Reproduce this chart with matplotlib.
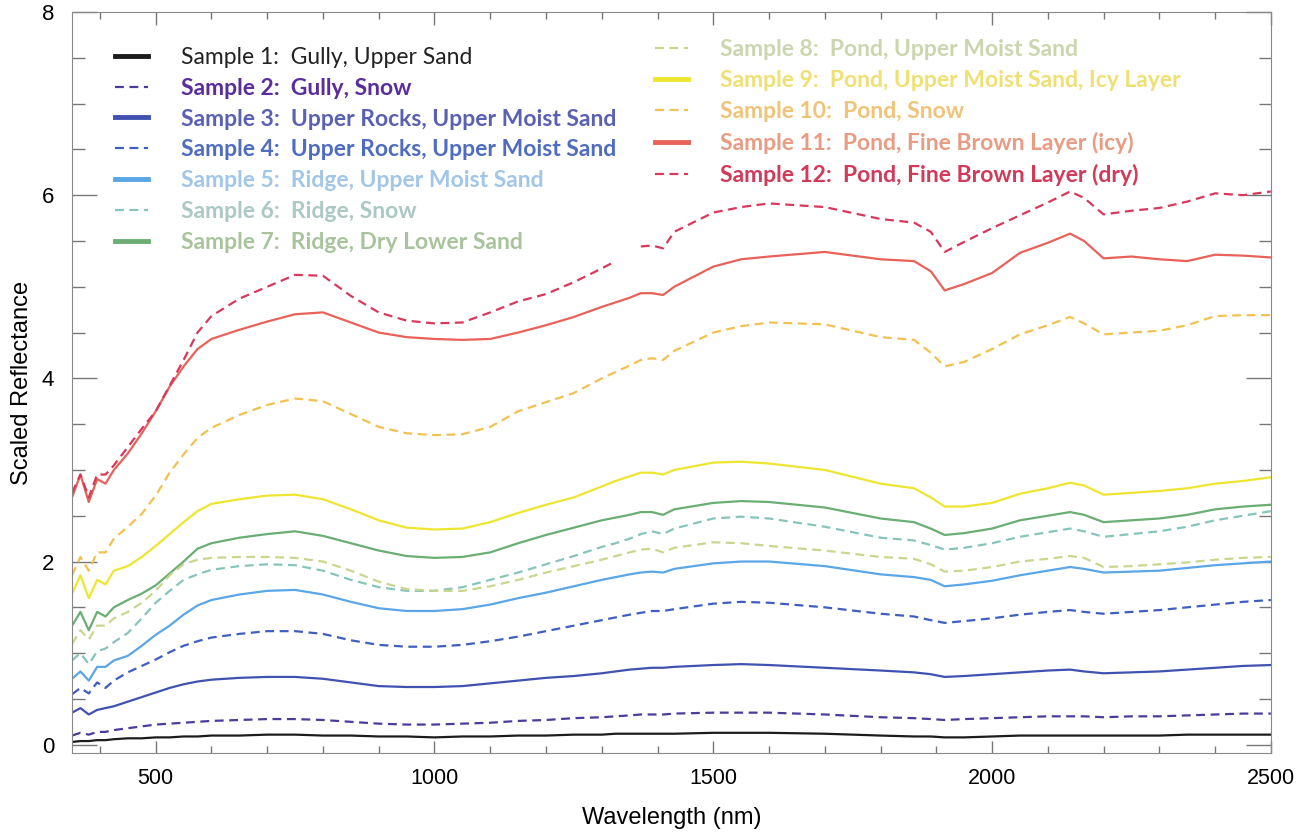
import numpy as np
import matplotlib.pyplot as plt
from matplotlib.ticker import MultipleLocator

nan = np.nan

wavelength = [350, 365, 380, 395, 410, 425,
              450, 475, 500, 525, 550, 575, 600,
              650, 700, 750, 800, 850, 900, 950, 1000,
              1050, 1100, 1150, 1200, 1250, 1300, 1325,
              1350, 1370, 1390, 1410, 1430,
              1500, 1550, 1600, 1700, 1800,
              1860, 1890, 1915, 1950, 2000,
              2050, 2100, 2140, 2165, 2200,
              2250, 2300, 2350, 2400, 2450, 2500]

sample1 = [0.03, 0.04, 0.04, 0.05, 0.05, 0.06,
           0.07, 0.07, 0.08, 0.08, 0.09, 0.09, 0.10,
           0.10, 0.11, 0.11, 0.10, 0.10, 0.09, 0.09, 0.08,
           0.09, 0.09, 0.10, 0.10, 0.11, 0.11, 0.12,
           0.12, 0.12, 0.12, 0.12, 0.12,
           0.13, 0.13, 0.13, 0.12, 0.10,
           0.09, 0.09, 0.08, 0.08, 0.09,
           0.10, 0.10, 0.10, 0.10, 0.10,
           0.10, 0.10, 0.11, 0.11, 0.11, 0.11]
sample2 = [0.10, 0.13, 0.11, 0.14, 0.14, 0.16,
           0.18, 0.20, 0.22, 0.23, 0.24, 0.25, 0.26,
           0.27, 0.28, 0.28, 0.27, 0.25, 0.23, 0.22, 0.22,
           0.23, 0.24, 0.26, 0.27, 0.29, 0.30, 0.31,
           0.32, 0.33, 0.33, 0.33, 0.34,
           0.35, 0.35, 0.35, 0.33, 0.30,
           0.29, 0.28, 0.27, 0.28, 0.29,
           0.30, 0.31, 0.31, 0.31, 0.30,
           0.31, 0.31, 0.32, 0.33, 0.34, 0.34]
sample3 = [0.35, 0.40, 0.33, 0.38, 0.40, 0.42,
           0.47, 0.52, 0.57, 0.62, 0.66, 0.69, 0.71,
           0.73, 0.74, 0.74, 0.72, 0.68, 0.64, 0.63, 0.63,
           0.64, 0.67, 0.70, 0.73, 0.75, 0.78, 0.80,
           0.82, 0.83, 0.84, 0.84, 0.85,
           0.87, 0.88, 0.87, 0.84, 0.81,
           0.79, 0.77, 0.74, 0.75, 0.77,
           0.79, 0.81, 0.82, 0.80, 0.78,
           0.79, 0.80, 0.82, 0.84, 0.86, 0.87]
sample4 = [0.55, 0.62, 0.56, 0.68, 0.62, 0.70,
           0.79, 0.86, 0.93, 1.01, 1.08, 1.13, 1.17,
           1.21, 1.24, 1.24, 1.21, 1.14, 1.09, 1.07, 1.07,
           1.09, 1.13, 1.18, 1.24, 1.30, 1.36, 1.39,
           1.42, 1.44, 1.46, 1.46, 1.48,
           1.54, 1.56, 1.55, 1.50, 1.43,
           1.40, 1.36, 1.33, 1.35, 1.38,
           1.42, 1.45, 1.47, 1.45, 1.43,
           1.45, 1.47, 1.50, 1.53, 1.56, 1.58]
sample5 = [0.72, 0.80, 0.70, 0.85, 0.85, 0.92,
           0.97, 1.08, 1.20, 1.30, 1.42, 1.52, 1.58,
           1.64, 1.68, 1.69, 1.64, 1.56, 1.49, 1.46, 1.46,
           1.48, 1.53, 1.60, 1.66, 1.73, 1.80, 1.83,
           1.86, 1.88, 1.89, 1.88, 1.92,
           1.98, 2.00, 2.00, 1.95, 1.86,
           1.83, 1.80, 1.73, 1.75, 1.79,
           1.85, 1.90, 1.94, 1.92, 1.88,
           1.89, 1.90, 1.93, 1.96, 1.98, 2.00]
sample6 = [0.92, 1.00, 0.88, 1.02, 1.05, 1.12,
           1.22, 1.38, 1.55, 1.68, 1.80, 1.86, 1.91,
           1.95, 1.97, 1.96, 1.90, 1.80, 1.72, 1.68, 1.68,
           1.72, 1.80, 1.88, 1.97, 2.06, 2.16, 2.20,
           2.25, 2.30, 2.33, 2.30, 2.36,
           2.47, 2.49, 2.47, 2.38, 2.26,
           2.23, 2.18, 2.13, 2.15, 2.20,
           2.27, 2.32, 2.36, 2.33, 2.27,
           2.30, 2.33, 2.38, 2.45, 2.50, 2.55]
sample7 = [1.30, 1.45, 1.25, 1.45, 1.40, 1.50,
           1.58, 1.65, 1.74, 1.87, 2.00, 2.14, 2.20,
           2.26, 2.30, 2.33, 2.28, 2.20, 2.12, 2.06, 2.04,
           2.05, 2.10, 2.20, 2.29, 2.37, 2.45, 2.48,
           2.51, 2.54, 2.54, 2.51, 2.57,
           2.64, 2.66, 2.65, 2.59, 2.47,
           2.43, 2.36, 2.29, 2.31, 2.36,
           2.45, 2.50, 2.54, 2.51, 2.43,
           2.45, 2.47, 2.51, 2.57, 2.60, 2.62]
sample8 = [1.10, 1.25, 1.15, 1.30, 1.30, 1.38,
           1.45, 1.55, 1.68, 1.85, 1.97, 2.02, 2.04,
           2.05, 2.05, 2.04, 2.00, 1.90, 1.78, 1.70, 1.68,
           1.68, 1.73, 1.80, 1.88, 1.95, 2.02, 2.06,
           2.10, 2.13, 2.14, 2.10, 2.15,
           2.21, 2.20, 2.17, 2.12, 2.05,
           2.03, 1.97, 1.89, 1.90, 1.94,
           2.00, 2.03, 2.06, 2.04, 1.94,
           1.95, 1.97, 1.99, 2.02, 2.04, 2.05]
sample9 = [1.65, 1.85, 1.60, 1.80, 1.75, 1.90,
           1.95, 2.05, 2.17, 2.30, 2.43, 2.55, 2.63,
           2.68, 2.72, 2.73, 2.68, 2.57, 2.45, 2.37, 2.35,
           2.36, 2.43, 2.53, 2.62, 2.70, 2.82, 2.88,
           2.93, 2.97, 2.97, 2.95, 3.00,
           3.08, 3.09, 3.07, 3.00, 2.85,
           2.80, 2.70, 2.60, 2.60, 2.64,
           2.74, 2.80, 2.86, 2.83, 2.73,
           2.75, 2.77, 2.80, 2.85, 2.88, 2.92]
sample10 = [1.85, 2.05, 1.90, 2.10, 2.10, 2.25,
            2.38, 2.52, 2.72, 2.97, 3.17, 3.35, 3.46,
            3.60, 3.71, 3.78, 3.75, 3.61, 3.47, 3.40, 3.38,
            3.39, 3.47, 3.64, 3.74, 3.84, 4.00, 4.07,
            4.14, 4.20, 4.22, 4.20, 4.30,
            4.50, 4.57, 4.61, 4.59, 4.45,
            4.42, 4.28, 4.13, 4.18, 4.32,
            4.48, 4.58, 4.67, 4.60, 4.48,
            4.50, 4.52, 4.58, 4.68, 4.69, 4.69]
sample11 = [2.70, 2.95, 2.65, 2.90, 2.85, 3.00,
            3.18, 3.40, 3.64, 3.91, 4.13, 4.32, 4.43,
            4.53, 4.62, 4.70, 4.72, 4.61, 4.50, 4.45, 4.43,
            4.42, 4.43, 4.50, 4.58, 4.67, 4.78, 4.83,
            4.88, 4.93, 4.93, 4.91, 5.00,
            5.22, 5.30, 5.33, 5.38, 5.30,
            5.28, 5.17, 4.96, 5.03, 5.15,
            5.37, 5.48, 5.58, 5.50, 5.31,
            5.33, 5.30, 5.28, 5.35, 5.34, 5.32]
sample12 = [2.75, 2.95, 2.70, 2.95, 2.95, 3.05,
            3.25, 3.45, 3.64, 3.92, 4.20, 4.50, 4.68,
            4.87, 5.00, 5.13, 5.12, 4.90, 4.72, 4.63, 4.60,
            4.61, 4.72, 4.84, 4.92, 5.05, 5.20, 5.28,
            nan, 5.44, 5.45, 5.42, 5.60,
            5.81, 5.87, 5.91, 5.87, 5.74,
            5.70, 5.60, 5.38, 5.49, 5.64,
            5.78, 5.92, 6.04, 5.97, 5.79,
            5.83, 5.86, 5.93, 6.02, 6.00, 6.04]

series = [sample1, sample2, sample3, sample4, sample5, sample6,
          sample7, sample8, sample9, sample10, sample11, sample12]

labels = ['Sample 1:  Gully, Upper Sand',
          'Sample 2:  Gully, Snow',
          'Sample 3:  Upper Rocks, Upper Moist Sand',
          'Sample 4:  Upper Rocks, Upper Moist Sand',
          'Sample 5:  Ridge, Upper Moist Sand',
          'Sample 6:  Ridge, Snow',
          'Sample 7:  Ridge, Dry Lower Sand',
          'Sample 8:  Pond, Upper Moist Sand',
          'Sample 9:  Pond, Upper Moist Sand, Icy Layer',
          'Sample 10:  Pond, Snow',
          'Sample 11:  Pond, Fine Brown Layer (icy)',
          'Sample 12:  Pond, Fine Brown Layer (dry)']

line_colors = ['#1c1c1c', '#4a3c9c', '#4052b0', '#3f5ec2', '#5aa6e6', '#86c4bc',
               '#6aae74', '#c8d68e', '#eee530', '#f2c152', '#e8625a', '#d8385c']
text_colors = ['#222222', '#5a2d9c', '#5a60b2', '#4f6cc0', '#a2c6e8', '#acc8c4',
               '#a9c49c', '#cbd6ae', '#eee072', '#f0c478', '#e89c84', '#d23a5a']
dashed = [False, True, False, True, False, True,
          False, True, False, True, False, True]

fig = plt.figure(figsize=(12.96, 8.32), dpi=100)
ax = fig.add_axes([0.0556, 0.095, 0.925, 0.8906])

lines = []
for vals, lab, col, d in zip(series, labels, line_colors, dashed):
    if d:
        ln, = ax.plot(wavelength, vals, color=col, lw=1.6, ls=(0, (4, 2.5)), label=lab)
    else:
        ln, = ax.plot(wavelength, vals, color=col, lw=1.6, label=lab)
    lines.append(ln)

ax.set_xlim(350, 2500)
ax.set_ylim(-0.09, 8)
ax.xaxis.set_major_locator(MultipleLocator(500))
ax.xaxis.set_minor_locator(MultipleLocator(100))
ax.yaxis.set_major_locator(MultipleLocator(2))
ax.yaxis.set_minor_locator(MultipleLocator(0.5))

ax.tick_params(which='both', direction='in', top=True, right=True,
               color='#777777', width=1)
ax.tick_params(axis='y', which='major', length=18, pad=13, labelsize=16)
ax.tick_params(axis='y', which='minor', length=9)
ax.tick_params(axis='x', which='major', length=9, pad=11, labelsize=15.5)
ax.tick_params(axis='x', which='minor', length=5)
for lab in ax.get_xticklabels() + ax.get_yticklabels():
    lab.set_family('Liberation Sans')
for sp in ax.spines.values():
    sp.set_color('#888888')

ax.set_xlabel('Wavelength (nm)', family='Liberation Sans', fontsize=17, labelpad=13)
ax.set_ylabel('Scaled Reflectance', family='Liberation Sans', fontsize=17, labelpad=6)

# two legend blocks with coloured text
leg_font = {'family': 'Lato', 'size': 16.5, 'weight': 'bold'}
leg1 = ax.legend(handles=lines[:7], loc='upper left', bbox_to_anchor=(0.036, 0.953),
                 frameon=False, prop=leg_font, handlelength=1.45, handletextpad=1.4,
                 labelspacing=0.43, borderpad=0, borderaxespad=0)
for i, t in enumerate(leg1.get_texts()):
    t.set_color(text_colors[i])
    if i == 0:
        t.set_fontweight('normal')
for h in leg1.get_lines():
    if h.get_linestyle() == '-':
        h.set_linewidth(3.5)
ax.add_artist(leg1)

leg2 = ax.legend(handles=lines[7:], loc='upper left', bbox_to_anchor=(0.486, 0.963),
                 frameon=False, prop=leg_font, handlelength=1.45, handletextpad=1.4,
                 labelspacing=0.43, borderpad=0, borderaxespad=0)
for i, t in enumerate(leg2.get_texts()):
    t.set_color(text_colors[7 + i])
for h in leg2.get_lines():
    if h.get_linestyle() == '-':
        h.set_linewidth(3.5)

fig.savefig('out.png', dpi=100)
